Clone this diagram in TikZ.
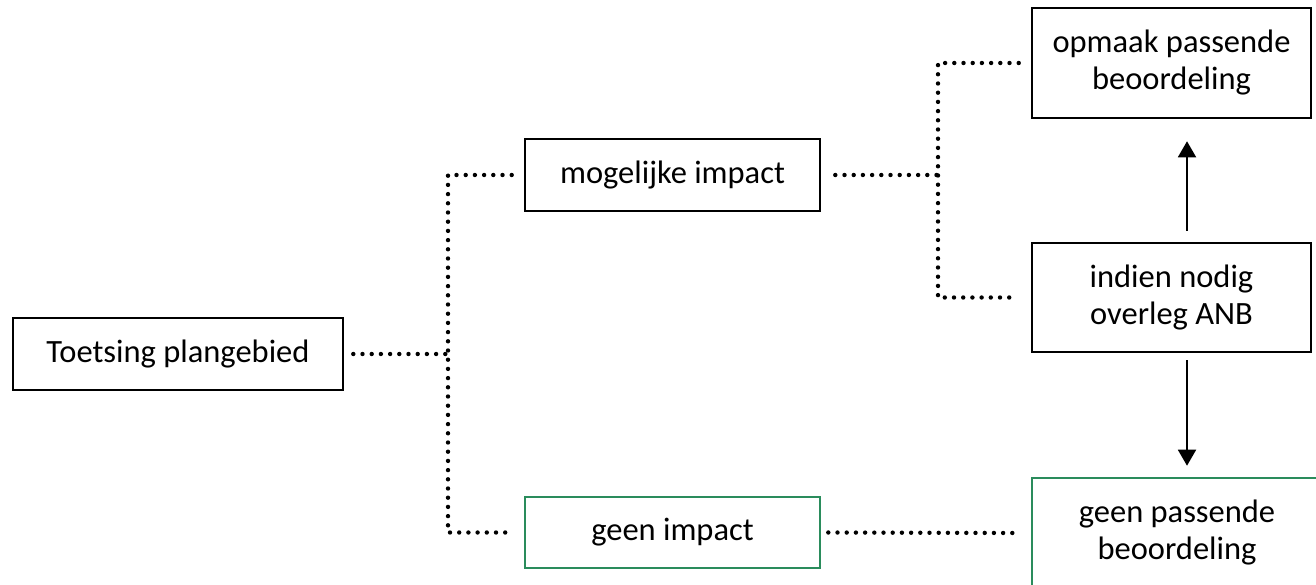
\documentclass[tikz,border=0pt]{standalone}
\usepackage{fontspec}
\setmainfont{Carlito}
\usetikzlibrary{arrows.meta}
\definecolor{boxgreen}{RGB}{42,140,92}
\tikzset{
  box/.style={draw=black, line width=2.6pt, inner sep=0pt, align=center,
    font=\fontsize{32.5}{37}\selectfont},
  greenbox/.style={box, draw=boxgreen},
  dots/.style={line width=4.4pt, line cap=round, dash pattern=on 0pt off 9.2pt},
  arr/.style={line width=1.8pt, -{Triangle[width=18pt,length=16pt]}}
}
\begin{document}
\begin{tikzpicture}[x=1pt,y=-1pt]
\useasboundingbox (0,0) rectangle (1316,585);
\clip (0,0) rectangle (1316,585);
\fill[white] (0,0) rectangle (1316,585);

\node[box, minimum width=330pt, minimum height=72pt] (toets) at (178,354) {Toetsing plangebied};
\node[box, minimum width=295pt, minimum height=72pt] (mog) at (672.5,175) {mogelijke impact};
\node[greenbox, minimum width=295pt, minimum height=71pt] (geen) at (672.5,532.5) {geen impact};
\node[box, minimum width=279pt, minimum height=110pt] (opm) at (1171.5,63) {opmaak passende\\beoordeling};
\node[box, minimum width=279pt, minimum height=109pt] (ind) at (1171.5,297.5) {indien nodig\\overleg ANB};
\node[greenbox, minimum width=290pt, minimum height=110pt] (gpb) at (1177,533) {geen passende\\beoordeling};

\coordinate (j1) at (448,354);
\coordinate (j2) at (938,175);
\coordinate (ax) at (1187,0);

\draw[dots] ([xshift=9pt]toets.east) -- (j1);
\draw[dots] ([xshift=-12pt]mog.west) -- (mog.west -| j1) -- (geen.west -| j1) -- ([xshift=-12pt]geen.west);
\draw[dots] ([xshift=14pt]mog.east) -- (j2);
\draw[dots] ([xshift=-12pt]opm.west) -- (opm.west -| j2) -- (ind.west -| j2) -- ([xshift=-18pt]ind.west);
\draw[dots] ([xshift=7pt]geen.east) -- ([xshift=-13pt]gpb.west);

\draw[arr] ([yshift=11pt]ind.north -| ax) -- ([yshift=-22pt]opm.south -| ax);
\draw[arr] ([yshift=-7pt]ind.south -| ax) -- ([yshift=11pt]gpb.north -| ax);
\end{tikzpicture}
\end{document}
